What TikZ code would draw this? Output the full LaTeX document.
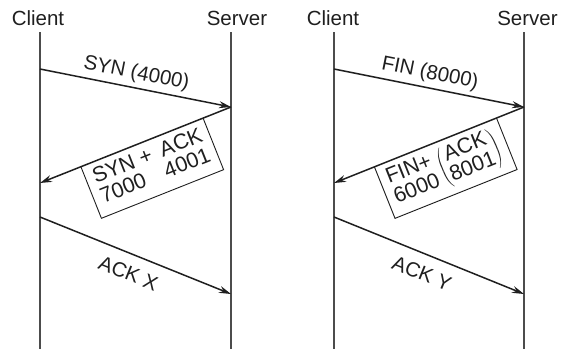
\documentclass[tikz,border=0pt]{standalone}
\usepackage{fontspec}
\setmainfont{Liberation Sans}
\usetikzlibrary{arrows.meta}
\begin{document}
\begin{tikzpicture}[x=1pt, y=-1pt,
  head/.style={font=\fontsize{20.5}{24}\selectfont, text=black!88, inner sep=0pt, anchor=base},
  lifeline/.style={line width=1.2pt, draw=black!70},
  msg/.style={line width=1.5pt, draw=black!88, -{Stealth[length=12pt, width=7pt]}},
  lbl/.style={font=\fontsize{20.5}{24}\selectfont, text=black!88, inner sep=0pt, sloped},
  segbox/.style={font=\fontsize{21.5}{21}\selectfont, text=black!88, inner sep=0pt,
    sloped, anchor=north, minimum width=130pt, minimum height=54pt},
  boxline/.style={line width=0.9pt, draw=black!88}]
\useasboundingbox (0,0) rectangle (562,349);

% ---------- connection set-up ----------
\node[head] (cl1) at (38,25) {Client};
\node[head] (sv1) at (237,25) {Server};
\coordinate (c1top) at (40,32);  \coordinate (c1bot) at (40,349);
\coordinate (s1top) at (231,32); \coordinate (s1bot) at (231,349);
\draw[lifeline] (c1top) -- (c1bot);
\draw[lifeline] (s1top) -- (s1bot);

\coordinate (a1) at (40,69);   \coordinate (b1) at (231,107);
\coordinate (a2) at (40,183);
\coordinate (a3) at (40,217);  \coordinate (b3) at (231,294);

\draw[msg] (a1) -- node[lbl, above=4pt, pos=0.49] (syn) {SYN (4000)} (b1);
\draw[msg] (b1) -- node[segbox, pos=0.466] (synack) {%
  \begin{tabular}{@{}l@{\ }r@{}}SYN + & ACK\\ 7000 & 4001\end{tabular}} (a2);
\draw[boxline] (synack.north west) -- (synack.south west)
  -- (synack.south east) -- (synack.north east);
\draw[msg] (a3) -- node[lbl, below=11pt] (ackx) {ACK X} (b3);

% ---------- connection release ----------
\node[head] (cl2) at (333,25) {Client};
\node[head] (sv2) at (527.5,25) {Server};
\coordinate (c2top) at (334,32);  \coordinate (c2bot) at (334,349);
\coordinate (s2top) at (524,32);  \coordinate (s2bot) at (524,349);
\draw[lifeline] (c2top) -- (c2bot);
\draw[lifeline] (s2top) -- (s2bot);

\coordinate (d1) at (334,69);   \coordinate (e1) at (524,107);
\coordinate (d2) at (334,183);
\coordinate (d3) at (334,217);  \coordinate (e3) at (524,294);

\draw[msg] (d1) -- node[lbl, above=4pt, pos=0.49] (fin) {FIN (8000)} (e1);
\draw[msg] (e1) -- node[segbox, pos=0.466] (finack) {%
  \begin{tabular}{@{}l@{}}FIN+\\ 6000\end{tabular}\,$\left(\mbox{\begin{tabular}{@{}c@{}}ACK\\ 8001\end{tabular}}\right)$} (d2);
\draw[boxline] (finack.north west) -- (finack.south west)
  -- (finack.south east) -- (finack.north east);
\draw[msg] (d3) -- node[lbl, below=11pt] (acky) {ACK Y} (e3);
\end{tikzpicture}
\end{document}
